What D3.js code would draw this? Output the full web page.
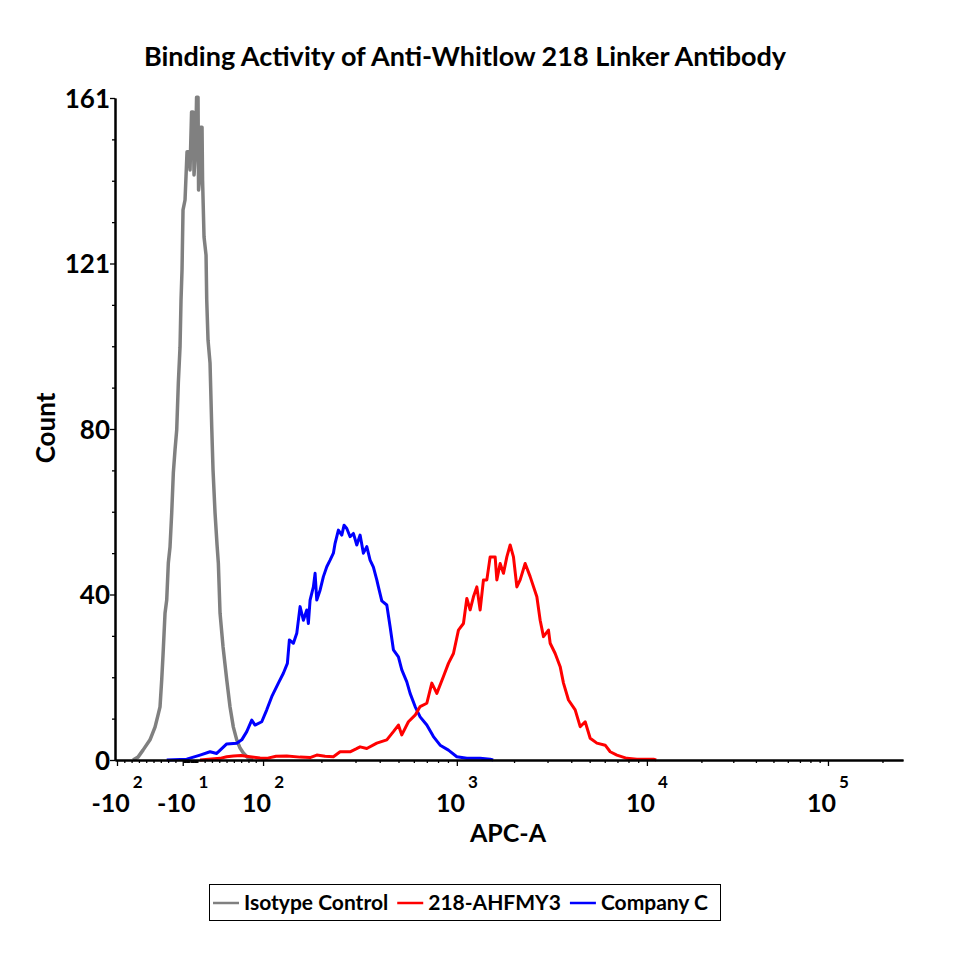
<!DOCTYPE html>
<html>
<head>
<meta charset="utf-8">
<script src="https://cdn.jsdelivr.net/npm/d3@7"></script>
<style>
  body { margin: 0; background: #fff; }
  text { font-family: Lato, "Open Sans", sans-serif; font-weight: bold; fill: #000; }
</style>
</head>
<body>
<svg id="chart" width="960" height="960"></svg>
<script>
// histogram data, x in display channels (0-1024), y in event count
const isotypeChannel = [23.4, 29.9, 36.4, 45.5, 52.0, 55.9, 58.5, 60.7, 62.4, 65.0, 67.2, 69.3, 71.5, 73.7, 75.8, 78.0, 80.2, 82.3, 84.5, 85.8, 87.1, 88.4, 91.0, 93.6, 96.2, 97.5, 99.5, 101.4, 102.7, 104.7, 106.0, 107.9, 108.6, 110.5, 111.2, 113.1, 113.8, 115.7, 118.3, 119.2, 120.9, 123.5, 125.7, 127.4, 130.0, 132.6, 134.3, 136.5, 140.4, 145.2, 149.5, 153.8, 158.2, 162.5, 166.8, 172.9, 179.4];
const isotypeCount = [0, 0.7, 2.4, 4.9, 8.0, 10.9, 12.9, 19.5, 25.5, 35.7, 38.9, 47.9, 51.8, 60.1, 69.8, 75.4, 80.3, 91.7, 100.4, 111.9, 119.2, 133.8, 136.2, 147.9, 147.9, 143.5, 157.6, 157.6, 142.3, 148.3, 161.2, 161.2, 138.6, 142.3, 153.9, 153.9, 141.0, 127.2, 122.8, 111.9, 102.1, 96.5, 81.0, 70.5, 60.1, 52.3, 47.9, 35.7, 27.5, 19.5, 12.9, 8.0, 4.9, 2.9, 1.7, 0.5, 0];

const ahfmyChannel = [110.5, 136.5, 145.2, 154.0, 163.8, 175.5, 188.5, 197.2, 209.3, 223.2, 240.5, 253.5, 262.2, 273.0, 283.8, 292.5, 305.5, 313.3, 318.5, 327.2, 340.2, 353.2, 361.8, 368.3, 372.7, 381.3, 390.0, 396.5, 405.2, 411.7, 418.2, 426.8, 433.3, 439.8, 446.3, 452.8, 457.2, 461.5, 465.8, 470.2, 474.5, 478.8, 483.2, 487.5, 494.0, 496.2, 500.5, 504.8, 509.2, 513.5, 517.8, 522.2, 526.5, 533.0, 539.5, 548.2, 552.5, 556.8, 563.3, 565.5, 572.0, 578.5, 582.8, 589.3, 598.0, 604.5, 611.0, 617.5, 626.2, 637.0, 643.5, 652.2, 665.2, 678.2, 699.8, 703.3];
const ahfmyCount = [0, 0.4, 0.8, 1.0, 1.1, 0.8, 0.5, 0.4, 0.9, 1.0, 0.7, 0.6, 1.2, 0.9, 0.8, 2.0, 2.0, 2.7, 3.2, 2.8, 4.1, 4.9, 6.9, 8.5, 6.1, 9.3, 10.9, 13.0, 13.8, 18.7, 16.2, 20.3, 23.5, 25.9, 31.6, 33.2, 39.3, 36.5, 39.7, 42.1, 36.5, 43.8, 43.8, 49.4, 49.4, 43.8, 47.8, 45.4, 49.4, 52.3, 49.4, 42.1, 43.8, 47.8, 44.6, 39.7, 34.0, 30.0, 31.6, 28.4, 25.9, 22.7, 18.7, 14.6, 12.2, 8.1, 9.3, 5.3, 4.1, 3.6, 2.0, 1.2, 0.4, 0.2, 0.2, 0];

const companyChannel = [67.2, 93.2, 110.5, 123.5, 132.2, 145.2, 158.2, 164.7, 171.2, 177.7, 182.0, 190.7, 197.2, 203.7, 212.3, 218.8, 224.0, 226.6, 231.8, 236.2, 240.5, 244.8, 249.2, 251.3, 253.5, 257.8, 260.0, 262.2, 266.5, 270.8, 275.2, 279.5, 283.8, 286.0, 290.3, 294.7, 297.7, 301.2, 305.5, 309.8, 314.2, 318.5, 322.8, 327.2, 331.5, 335.8, 340.2, 342.3, 346.7, 353.2, 357.5, 361.8, 368.3, 372.7, 379.2, 383.5, 390.0, 396.5, 405.2, 413.8, 422.5, 433.3, 444.2, 457.2, 474.5, 487.5, 491.4];
const companyCount = [0, 0.2, 1.2, 2.0, 1.6, 3.9, 4.1, 4.9, 6.9, 9.7, 8.5, 9.3, 12.2, 15.4, 18.7, 21.1, 23.5, 29.2, 28.4, 30.8, 37.3, 34.0, 36.5, 33.2, 38.9, 42.1, 45.4, 38.9, 41.3, 44.6, 47.0, 48.6, 50.3, 52.7, 55.9, 54.7, 57.1, 56.3, 54.3, 55.1, 52.3, 54.7, 50.3, 51.9, 48.6, 46.9, 43.8, 42.1, 38.7, 37.7, 32.4, 26.8, 25.1, 21.9, 19.0, 16.2, 13.0, 10.5, 8.5, 5.7, 3.6, 2.4, 0.8, 0.4, 0.4, 0.2, 0];

const seriesNames = ["Isotype Control", "218-AHFMY3", "Company C"];

// y axis: 0..161 split in quarters, labels as printed
const yMax = 161;
const yMajorLabels = ["0", "40", "80", "121", "161"];

// x axis decade labels (APC-A values)
const xMajorValues = [-100, -10, 100, 1000, 10000, 100000];
const xMajorLabels = [["-10", "2"], ["-10", "1"], ["10", "2"], ["10", "3"], ["10", "4"], ["10", "5"]];
const xMinorValues = [-90, -80, -70, -60, -50, -40, -30, -20, -9, -8, -7, -6, -5, -4, -3, -2, -1,
  1, 2, 3, 4, 5, 6, 7, 8, 9, 10, 20, 30, 40, 50, 60, 70, 80, 90,
  200, 300, 400, 500, 600, 700, 800, 900, 2000, 3000, 4000, 5000, 6000, 7000, 8000, 9000,
  20000, 30000, 40000, 50000, 60000, 70000, 80000, 90000, 200000];

const colors = ["#808080", "#ff0000", "#0000ff"];

// biexponential display: linear around zero, log above 100
const zeroChannel = 97.5;
const linearSlope = 0.949;
const logScale = d3.scaleLinear().domain([2, 3, 4, 5]).range([192.4, 444.2, 691.2, 926.5]);
function toChannel(v) {
  if (Math.abs(v) <= 100) return zeroChannel + v * linearSlope;
  return logScale(Math.log10(v));
}

const svg = d3.select("#chart");
const plot = {left: 115, right: 903, top: 98, bottom: 760};

const x = d3.scaleLinear().domain([0, 1024]).range([plot.left, plot.right]);
const y = d3.scaleLinear().domain([0, yMax]).range([plot.bottom, plot.top]);

// title
svg.append("text")
  .attr("x", 465).attr("y", 66)
  .attr("text-anchor", "middle")
  .style("font-size", "27px")
  .text("Binding Activity of Anti-Whitlow 218 Linker Antibody");

// curves
const series = [
  isotypeChannel.map((c, i) => [c, isotypeCount[i]]),
  ahfmyChannel.map((c, i) => [c, ahfmyCount[i]]),
  companyChannel.map((c, i) => [c, companyCount[i]])
];
const line = d3.line().x(d => x(d[0])).y(d => y(d[1]));
const widths = [3.5, 3, 3];
[0, 2, 1].forEach(k => {
  svg.append("path")
    .datum(series[k])
    .attr("fill", "none")
    .attr("stroke", colors[k])
    .attr("stroke-width", widths[k])
    .attr("stroke-linejoin", "round")
    .attr("d", line);
});

// y axis
const yMajor = d3.range(5).map(k => yMax * k / 4);
const yMinor = d3.range(17).map(k => yMax * k / 16).filter((d, k) => k % 4 !== 0);

const yAxisMinor = svg.append("g")
  .attr("transform", `translate(${plot.left},0)`)
  .call(d3.axisLeft(y).tickValues(yMinor).tickSize(3).tickSizeOuter(0).tickFormat(""));
const yAxis = svg.append("g")
  .attr("transform", `translate(${plot.left},0)`)
  .call(d3.axisLeft(y).tickValues(yMajor).tickSize(5).tickSizeOuter(0).tickFormat((d, i) => yMajorLabels[i]));
yAxis.selectAll("text").style("font-size", "26px").attr("x", -5).attr("dy", "0.36em");
[yAxis, yAxisMinor].forEach(g => {
  g.selectAll("path").attr("stroke-width", 2);
  g.selectAll("line").attr("stroke-width", 1.3);
});

// x axis
const xAxisMinor = svg.append("g")
  .attr("transform", `translate(0,${plot.bottom})`)
  .call(d3.axisBottom(x).tickValues(xMinorValues.map(toChannel)).tickSize(3).tickSizeOuter(0).tickFormat(""));
const xAxis = svg.append("g")
  .attr("transform", `translate(0,${plot.bottom})`)
  .call(d3.axisBottom(x).tickValues(xMajorValues.map(toChannel)).tickSize(6).tickSizeOuter(0).tickFormat(""));
[xAxis, xAxisMinor].forEach(g => {
  g.selectAll("path").attr("stroke-width", 2);
  g.selectAll("line").attr("stroke-width", 1.3);
});

const xLabels = svg.append("g");
xMajorValues.forEach((v, i) => {
  const t = xLabels.append("text")
    .attr("x", x(toChannel(v)))
    .attr("y", 812)
    .attr("text-anchor", "middle")
    .style("font-size", "25px");
  t.append("tspan").text(xMajorLabels[i][0]);
  t.append("tspan").attr("dx", 3).attr("dy", -24).style("font-size", "17px").text(xMajorLabels[i][1]);
});

// axis titles
svg.append("text")
  .attr("x", 508).attr("y", 842)
  .attr("text-anchor", "middle")
  .style("font-size", "25px")
  .text("APC-A");
svg.append("text")
  .attr("transform", "translate(55,428) rotate(-90)")
  .attr("text-anchor", "middle")
  .style("font-size", "26px")
  .text("Count");

// legend
const legend = svg.append("g");
legend.append("rect")
  .attr("x", 209.5).attr("y", 884.5).attr("width", 511).attr("height", 36)
  .attr("fill", "#fff").attr("stroke", "#000").attr("stroke-width", 1);
let lx = 213;
seriesNames.forEach((name, k) => {
  legend.append("line")
    .attr("x1", lx).attr("x2", lx + 26).attr("y1", 903).attr("y2", 903)
    .attr("stroke", colors[k]).attr("stroke-width", 2.5);
  const t = legend.append("text")
    .attr("x", lx + 31).attr("y", 910)
    .style("font-size", "21px")
    .text(name);
  lx += 31 + t.node().getComputedTextLength() + 9;
});
</script>
</body>
</html>
